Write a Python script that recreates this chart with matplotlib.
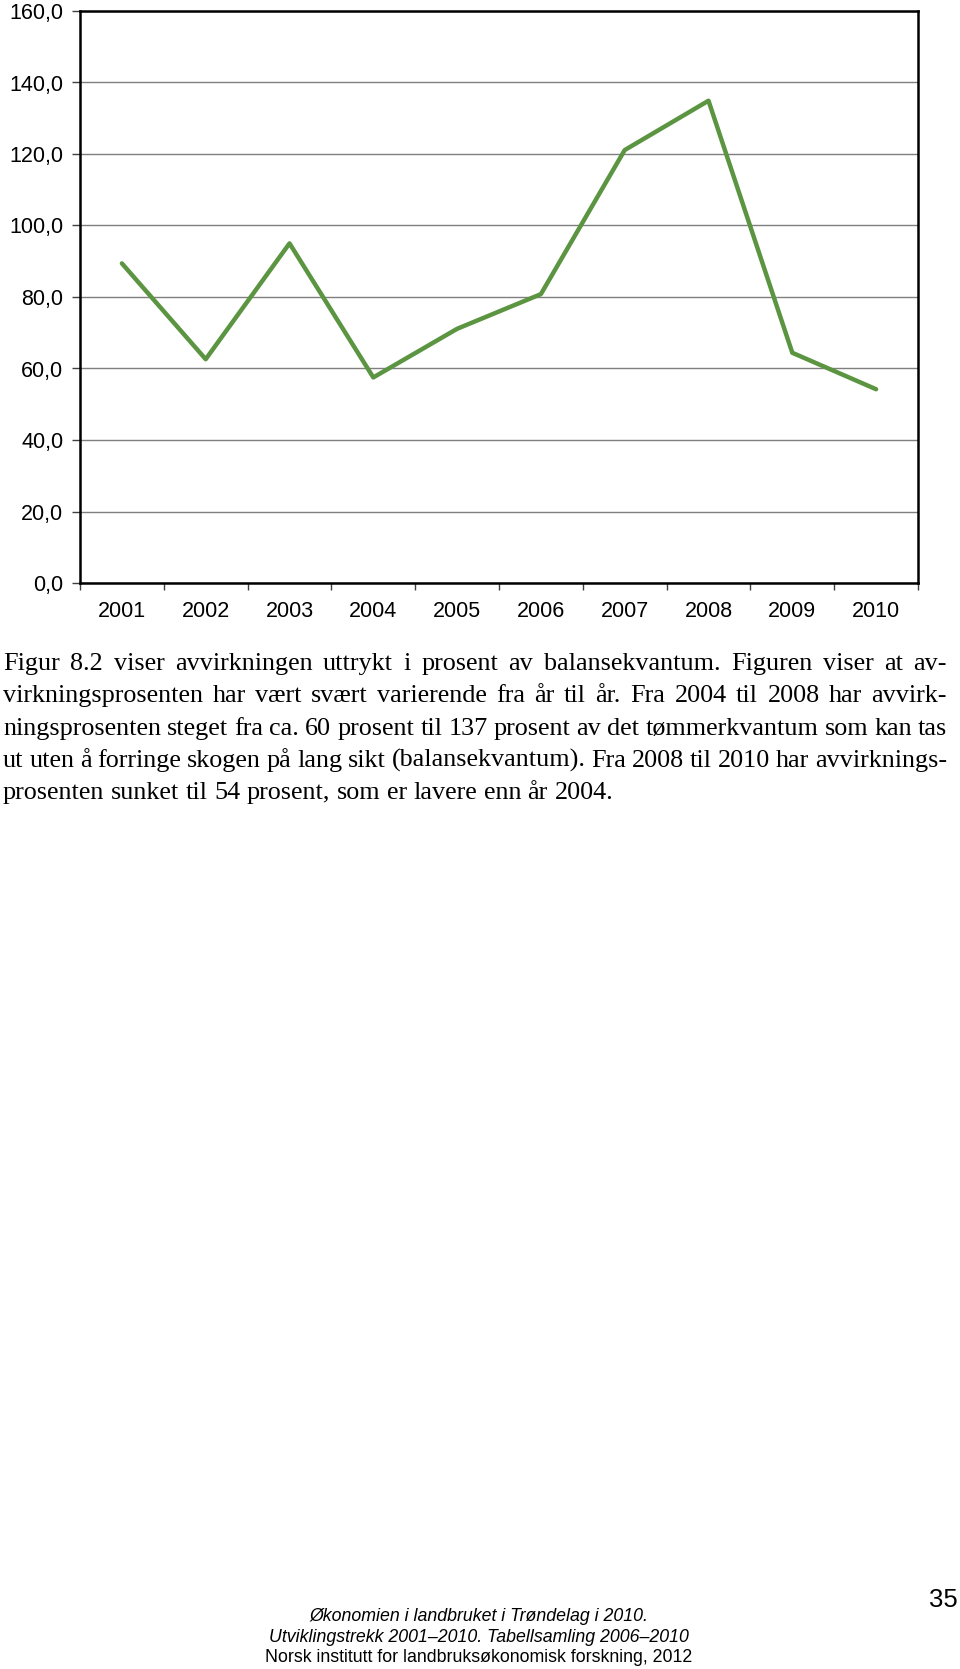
import matplotlib
matplotlib.use("Agg")
import matplotlib.pyplot as plt
from matplotlib.ticker import FixedLocator

# data
years = ["2001", "2002", "2003", "2004", "2005", "2006", "2007", "2008", "2009", "2010"]
percent = [89.4, 62.6, 95.0, 57.5, 71.1, 80.8, 121.1, 134.9, 64.4, 54.2]
y_ticks = [0, 20, 40, 60, 80, 100, 120, 140, 160]

body_lines = [
    "Figur 8.2 viser avvirkningen uttrykt i prosent av balansekvantum. Figuren viser at av-",
    "virkningsprosenten har vært svært varierende fra år til år. Fra 2004 til 2008 har avvirk-",
    "ningsprosenten steget fra ca. 60 prosent til 137 prosent av det tømmerkvantum som kan tas",
    "ut uten å forringe skogen på lang sikt (balansekvantum). Fra 2008 til 2010 har avvirknings-",
    "prosenten sunket til 54 prosent, som er lavere enn år 2004.",
]
footer_lines = [
    "Økonomien i landbruket i Trøndelag i 2010.",
    "Utviklingstrekk 2001–2010. Tabellsamling 2006–2010",
    "Norsk institutt for landbruksøkonomisk forskning, 2012",
]
page_no = "35"

W, H = 960, 1669
fig = plt.figure(figsize=(W / 100, H / 100), dpi=100)

# chart area in pixels: x 80..918, y 11..583
ax = fig.add_axes([80 / W, 1 - 583 / H, 838 / W, 572 / H])
x = list(range(len(years)))
ax.plot(x, percent, color="#5b9541", linewidth=3.2, solid_capstyle="round", zorder=3)

ax.set_xlim(-0.5, len(years) - 0.5)
ax.set_ylim(0, 160)
ax.set_yticks(y_ticks)
ax.set_yticklabels([f"{v:.1f}".replace(".", ",") for v in y_ticks])
ax.yaxis.grid(True, color="#7f7f7f", linewidth=1.0)
ax.set_axisbelow(True)

ax.set_xticks(x)
ax.set_xticklabels(years)
ax.xaxis.set_minor_locator(FixedLocator([i - 0.5 for i in range(len(years) + 1)]))
ax.tick_params(axis="x", which="major", length=0, pad=13)
ax.tick_params(axis="x", which="minor", length=5, width=1, color="#404040", direction="out")
ax.tick_params(axis="y", length=6, width=1, color="#404040", direction="out", pad=6)
for lab in ax.get_xticklabels() + ax.get_yticklabels():
    lab.set_fontfamily("Liberation Sans")
    lab.set_fontsize(15.5)

for side in ["left", "bottom", "top", "right"]:
    ax.spines[side].set_color("black")
    ax.spines[side].set_linewidth(1.8)

# justified body text
renderer = fig.canvas.get_renderer()
left_px, right_px = 3, 947
base_y = 670
line_gap = 32.3
body_font = dict(family="Liberation Serif", size=18.8, color="black")

for i, line in enumerate(body_lines):
    yb = 1 - (base_y + i * line_gap) / H
    words = line.split(" ")
    texts = [fig.text(0, yb, w, va="baseline", ha="left", **body_font) for w in words]
    widths = [t.get_window_extent(renderer).width for t in texts]
    if i == len(body_lines) - 1:
        sp = fig.text(0, 0, "a a", **body_font)
        sp2 = fig.text(0, 0, "aa", **body_font)
        gap = sp.get_window_extent(renderer).width - sp2.get_window_extent(renderer).width
        sp.remove()
        sp2.remove()
    else:
        gap = (right_px - left_px - sum(widths)) / (len(words) - 1)
    xpos = left_px
    for t, w in zip(texts, widths):
        t.set_x(xpos / W)
        xpos += w + gap

# footer
footer_y = [1616, 1637, 1657]
for i, (line, yy) in enumerate(zip(footer_lines, footer_y)):
    fig.text(479 / W, 1 - yy / H, line, ha="center", va="center",
             family="Liberation Sans", size=12.8,
             style="italic" if i < 2 else "normal")

fig.text(958 / W, 1 - 1600 / H, page_no, ha="right", va="center",
         family="Liberation Sans", size=18.5)

fig.savefig("out.png", dpi=100, facecolor="white")
